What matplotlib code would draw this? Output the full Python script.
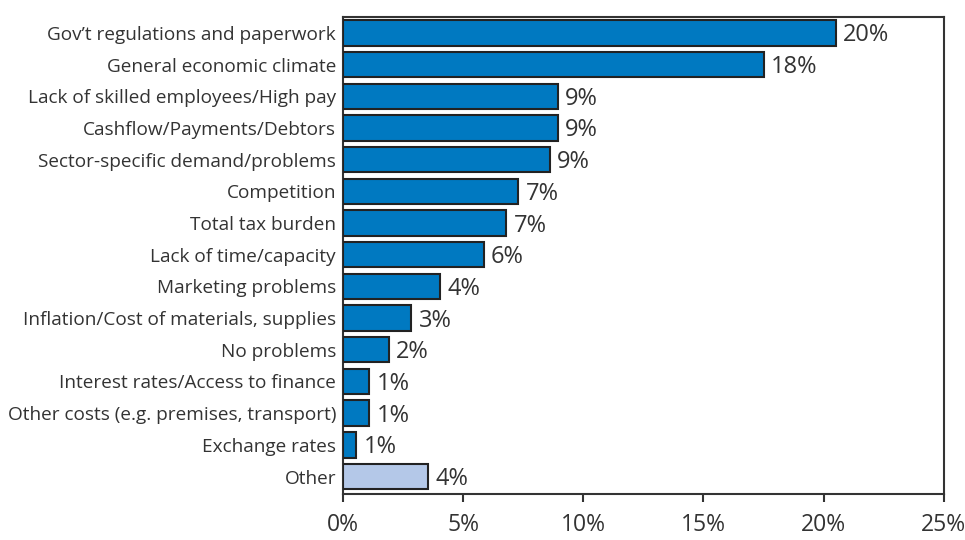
import matplotlib
matplotlib.use('Agg')
import matplotlib.pyplot as plt
import numpy as np

# problem categories, top to bottom
categories = ["Gov\u2019t regulations and paperwork",
              "General economic climate",
              "Lack of skilled employees/High pay",
              "Cashflow/Payments/Debtors",
              "Sector-specific demand/problems",
              "Competition",
              "Total tax burden",
              "Lack of time/capacity",
              "Marketing problems",
              "Inflation/Cost of materials, supplies",
              "No problems",
              "Interest rates/Access to finance",
              "Other costs (e.g. premises, transport)",
              "Exchange rates",
              "Other"]
shares = [20.5, 17.5, 8.95, 8.95, 8.6, 7.3, 6.8, 5.85, 4.05, 2.85, 1.9, 1.1, 1.1, 0.55, 3.55]
bar_colors = ['#0079C1'] * 14 + ['#B4C8E8']
xticks = [0, 5, 10, 15, 20, 25]

plt.rcParams['font.family'] = ['Open Sans', 'DejaVu Sans']
text_col = '#333333'

fig = plt.figure(figsize=(9.65, 5.4), dpi=100)
ax = fig.add_axes([0.3554, 0.0852, 0.6226, 0.8833])

y = np.arange(len(categories))
ax.barh(y, shares, height=0.8, color=bar_colors, edgecolor='#222222', linewidth=1.5, zorder=3)

for yi, v in zip(y, shares):
    ax.text(v + 0.3, yi + 0.08, "{:.0f}%".format(v), va='center', ha='left',
            fontsize=17, color=text_col)

ax.set_ylim(len(categories) - 0.45, -0.5)
ax.set_xlim(0, 25)
ax.set_yticks(y)
ax.set_yticklabels(categories, fontsize=13.7, color=text_col)
ax.tick_params(axis='y', length=0, pad=5)
ax.set_xticks(xticks)
ax.set_xticklabels(["{}%".format(t) for t in xticks], fontsize=16.5, color=text_col)
ax.tick_params(axis='x', direction='out', length=6, width=1.5, color='#333333', pad=8)

for s in ax.spines.values():
    s.set_linewidth(1.5)
    s.set_color('#333333')

fig.savefig('out.png', dpi=100)
